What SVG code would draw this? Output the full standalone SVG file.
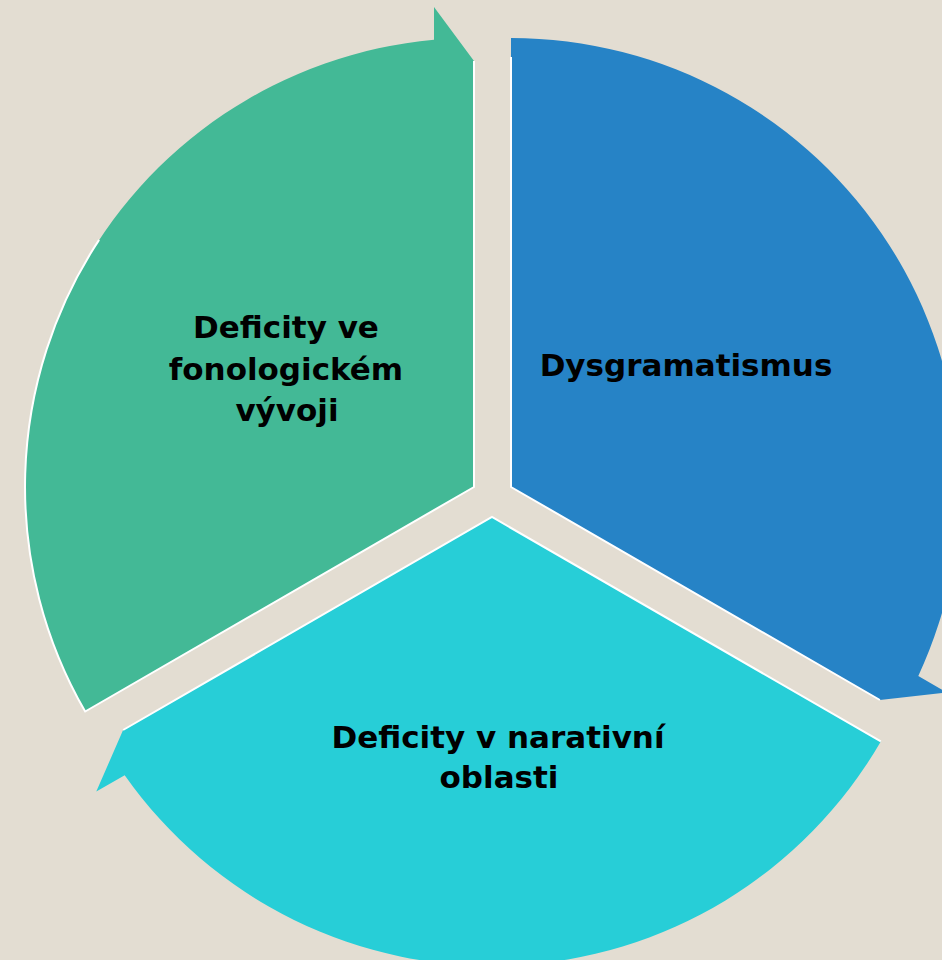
<svg xmlns="http://www.w3.org/2000/svg" width="942" height="960" viewBox="0 0 942 960">
  <style>
    .bg { fill: #E3DDD2; }
    .seg { stroke: none; }
    .edge { fill: none; stroke: #FFFFFF; stroke-width: 2; stroke-linejoin: miter; }
    .label { font-family: "DejaVu Sans", "Liberation Sans", sans-serif; font-weight: bold; font-size: 31px; fill: #000000; text-anchor: middle; }
  </style>
  <rect class="bg" x="0" y="0" width="942" height="960"/>

  <g id="node-fonologie">
    <path class="seg" fill="#43B996" d="M474,61 L434,7 L434,39.8 A449,449 0 0 0 85.2,711.5 L474,487 Z"/>
    <path class="edge" d="M99.1,239.9 A449,449 0 0 0 85.2,711.5 L474,487 L474,61"/>
    <text class="label" x="286" y="338">Deficity ve</text>
    <text class="label" x="286" y="380">fonologickém</text>
    <text class="label" x="287" y="421">vývoji</text>
  </g>

  <g id="node-dysgramatismus">
    <path class="seg" fill="#2683C6" d="M879.9,700 L946.7,692.4 L918.3,676 A449,449 0 0 0 511,38 L511,487 Z"/>
    <path class="edge" d="M511,57 L511,487 L879.9,700"/>
    <text class="label" x="686" y="376">Dysgramatismus</text>
  </g>

  <g id="node-narativni">
    <path class="seg" fill="#27CED7" d="M123.1,730 L96.3,791.6 L124.7,775.2 A449,449 0 0 0 880.8,741.4 L492,517 Z"/>
    <path class="edge" d="M123.1,730 L492,517 L880.8,741.4"/>
    <text class="label" x="498" y="748">Deficity v narativní</text>
    <text class="label" x="499" y="788">oblasti</text>
  </g>

  <g id="connectors"></g>
</svg>
